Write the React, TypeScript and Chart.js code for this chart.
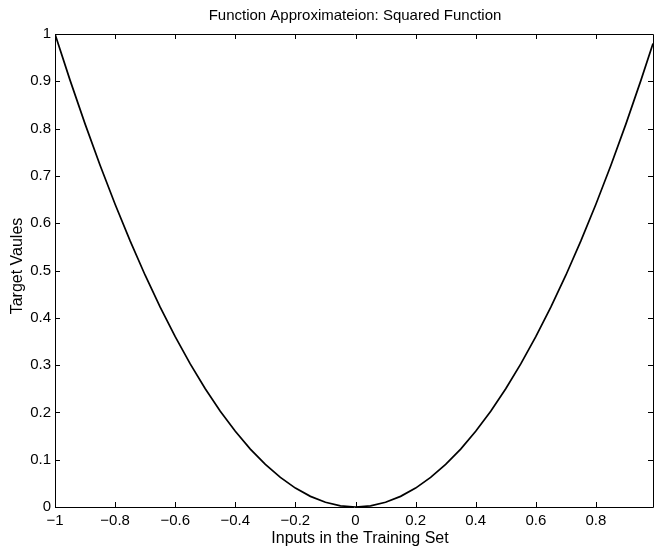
import React, { useEffect, useRef } from "react";
import { Chart, registerables } from "chart.js";

Chart.register(...registerables);

const TITLE = "Function Approximateion: Squared Function";
const X_LABEL = "Inputs in the Training Set";
const Y_LABEL = "Target Vaules";

const INPUTS = [
  -1, -0.95, -0.9, -0.85, -0.8, -0.75, -0.7, -0.65, -0.6, -0.55, -0.5, -0.45, -0.4, -0.35, -0.3, -0.25, -0.2, -0.15, -0.1, -0.05,
  0, 0.05, 0.1, 0.15, 0.2, 0.25, 0.3, 0.35, 0.4, 0.45, 0.5, 0.55, 0.6, 0.65, 0.7, 0.75, 0.8, 0.85, 0.9, 0.95, 0.99,
];
const TARGETS = [
  1, 0.9025, 0.81, 0.7225, 0.64, 0.5625, 0.49, 0.4225, 0.36, 0.3025, 0.25, 0.2025, 0.16, 0.1225, 0.09, 0.0625, 0.04, 0.0225, 0.01, 0.0025,
  0, 0.0025, 0.01, 0.0225, 0.04, 0.0625, 0.09, 0.1225, 0.16, 0.2025, 0.25, 0.3025, 0.36, 0.4225, 0.49, 0.5625, 0.64, 0.7225, 0.81, 0.9025, 0.98,
];

const X_TICKS = [-1, -0.8, -0.6, -0.4, -0.2, 0, 0.2, 0.4, 0.6, 0.8];
const X_TICK_LABELS = ["\u22121", "\u22120.8", "\u22120.6", "\u22120.4", "\u22120.2", "0", "0.2", "0.4", "0.6", "0.8"];
const Y_TICKS = [0, 0.1, 0.2, 0.3, 0.4, 0.5, 0.6, 0.7, 0.8, 0.9, 1];
const Y_TICK_LABELS = ["0", "0.1", "0.2", "0.3", "0.4", "0.5", "0.6", "0.7", "0.8", "0.9", "1"];

const FONT_FAMILY = "'Liberation Sans', Arial, Helvetica, sans-serif";

const boxPlugin = {
  id: "matlabBox",
  afterDatasetsDraw(chart: any) {
    const { ctx, chartArea } = chart;
    const xs = chart.scales.x;
    const ys = chart.scales.y;
    const { left, right, top, bottom } = chartArea;
    ctx.save();
    ctx.strokeStyle = "#000";
    ctx.lineWidth = 1;
    ctx.beginPath();
    ctx.rect(Math.round(left) + 0.5, Math.round(top) + 0.5, Math.round(right - left), Math.round(bottom - top));
    ctx.stroke();
    const tl = 5;
    ctx.beginPath();
    for (const v of X_TICKS) {
      const px = Math.round(xs.getPixelForValue(v)) + 0.5;
      ctx.moveTo(px, bottom);
      ctx.lineTo(px, bottom - tl);
      ctx.moveTo(px, top);
      ctx.lineTo(px, top + tl);
    }
    for (const v of Y_TICKS) {
      const py = Math.round(ys.getPixelForValue(v)) + 0.5;
      ctx.moveTo(left, py);
      ctx.lineTo(left + tl, py);
      ctx.moveTo(right, py);
      ctx.lineTo(right - tl, py);
    }
    ctx.stroke();
    ctx.restore();
  },
  afterDraw(chart: any) {
    const { ctx, chartArea } = chart;
    const { left, right } = chartArea;
    ctx.save();
    ctx.fillStyle = "#000";
    ctx.textAlign = "center";
    ctx.textBaseline = "alphabetic";
    ctx.font = `15px ${FONT_FAMILY}`;
    ctx.fillText(TITLE, (left + right) / 2 + 1, 20);
    ctx.font = `16px ${FONT_FAMILY}`;
    ctx.fillText(X_LABEL, (left + right) / 2 + 6, 543);
    ctx.translate(22, 266);
    ctx.rotate(-Math.PI / 2);
    ctx.fillText(Y_LABEL, 0, 0);
    ctx.restore();
  },
};

export default function App() {
  const ref = useRef<HTMLCanvasElement | null>(null);
  useEffect(() => {
    document.body.style.margin = "0";
    document.body.style.background = "#fff";
    const canvas = ref.current!;
    const chart = new Chart(canvas, {
      type: "line",
      data: {
        datasets: [
          {
            data: INPUTS.map((x, i) => ({ x, y: TARGETS[i] })),
            borderColor: "#000",
            borderWidth: 1.7,
            pointRadius: 0,
            fill: false,
            tension: 0,
          },
        ],
      },
      options: {
        animation: false,
        responsive: false,
        maintainAspectRatio: false,
        layout: { padding: { top: 34, right: 1, left: 0, bottom: 0 } },
        plugins: { legend: { display: false }, tooltip: { enabled: false }, title: { display: false } },
        scales: {
          x: {
            type: "linear",
            min: -1,
            max: 0.99,
            grid: { display: false, drawTicks: false },
            border: { display: false },
            afterBuildTicks: (s: any) => {
              s.ticks = X_TICKS.map((v) => ({ value: v }));
            },
            afterFit: (s: any) => {
              s.height = 41;
            },
            ticks: {
              autoSkip: false,
              maxRotation: 0,
              padding: 5,
              color: "#000",
              font: { family: FONT_FAMILY, size: 15 },
              callback: (v: any) => {
                const i = X_TICKS.findIndex((t) => Math.abs(t - Number(v)) < 1e-9);
                return i >= 0 ? X_TICK_LABELS[i] : "";
              },
            },
          },
          y: {
            type: "linear",
            min: 0,
            max: 1,
            grid: { display: false, drawTicks: false },
            border: { display: false },
            afterBuildTicks: (s: any) => {
              s.ticks = Y_TICKS.map((v) => ({ value: v }));
            },
            afterFit: (s: any) => {
              s.width = 55;
            },
            ticks: {
              autoSkip: false,
              padding: 4,
              color: "#000",
              font: { family: FONT_FAMILY, size: 15 },
              callback: (v: any) => {
                const i = Y_TICKS.findIndex((t) => Math.abs(t - Number(v)) < 1e-9);
                return i >= 0 ? Y_TICK_LABELS[i] : "";
              },
            },
          },
        },
      },
      plugins: [boxPlugin],
    } as any);
    return () => chart.destroy();
  }, []);
  return <canvas ref={ref} width={654} height={548} style={{ display: "block", width: 654, height: 548 }} />;
}
